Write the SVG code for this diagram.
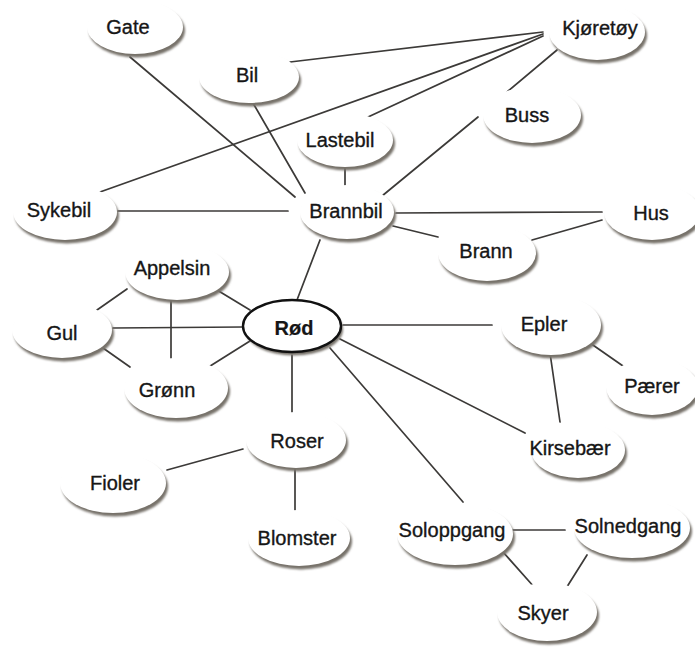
<svg xmlns="http://www.w3.org/2000/svg" width="695" height="650" viewBox="0 0 695 650">
<defs>
<filter id="blur" x="-10%" y="-10%" width="120%" height="130%"><feGaussianBlur stdDeviation="0.8"/></filter>
</defs>
<style>
.sh{fill:#77726b;filter:url(#blur)}
.bg{fill:#ffffff}
.main{fill:#ffffff;stroke:#111;stroke-width:2.4}
text{font-family:"Liberation Sans",Arial,sans-serif;font-size:20px;fill:#161616;stroke:#161616;stroke-width:0.35;text-anchor:middle}
.b{font-weight:bold;stroke-width:0.2}
#edges line{stroke:#3c3a38;stroke-width:1.7;stroke-linecap:round}
</style>
<rect width="695" height="650" fill="#ffffff"/>
<g id="edges">
<line x1="130" y1="57" x2="295" y2="197"/>
<line x1="253" y1="103" x2="305" y2="193"/>
<line x1="290" y1="62" x2="543" y2="32"/>
<line x1="100" y1="192" x2="543" y2="34"/>
<line x1="368" y1="117" x2="543" y2="36"/>
<line x1="382" y1="196" x2="478" y2="117"/>
<line x1="507" y1="92" x2="557" y2="50"/>
<line x1="345" y1="168" x2="345" y2="186"/>
<line x1="118" y1="211" x2="288" y2="211"/>
<line x1="396" y1="213" x2="602" y2="212"/>
<line x1="393" y1="226" x2="438" y2="237"/>
<line x1="532" y1="240" x2="602" y2="220"/>
<line x1="320" y1="240" x2="297" y2="300"/>
<line x1="97" y1="310" x2="127" y2="289"/>
<line x1="217" y1="290" x2="250" y2="310"/>
<line x1="171" y1="298" x2="171" y2="361"/>
<line x1="113" y1="328" x2="243" y2="327"/>
<line x1="103" y1="348" x2="130" y2="367"/>
<line x1="207" y1="368" x2="250" y2="341"/>
<line x1="292" y1="355" x2="292" y2="413"/>
<line x1="167" y1="470" x2="243" y2="449"/>
<line x1="295" y1="468" x2="295" y2="510"/>
<line x1="343" y1="325" x2="492" y2="325"/>
<line x1="590" y1="343" x2="623" y2="366"/>
<line x1="550" y1="353" x2="560" y2="422"/>
<line x1="340" y1="339" x2="525" y2="433"/>
<line x1="330" y1="348" x2="463" y2="502"/>
<line x1="513" y1="530" x2="565" y2="530"/>
<line x1="503" y1="552" x2="535" y2="588"/>
<line x1="587" y1="555" x2="565" y2="590"/>
</g>
<g id="gate"><ellipse class="sh" cx="137" cy="30.5" rx="48" ry="27"/><ellipse class="bg" cx="135" cy="27" rx="48" ry="27"/><text x="128" y="34">Gate</text></g>
<g id="bil"><ellipse class="sh" cx="251" cy="80.5" rx="50" ry="26"/><ellipse class="bg" cx="249" cy="77" rx="50" ry="26"/><text x="247" y="82">Bil</text></g>
<g id="kjoretoy"><ellipse class="sh" cx="599" cy="35.5" rx="48" ry="28"/><ellipse class="bg" cx="597" cy="32" rx="48" ry="28"/><text x="600" y="35">Kjøretøy</text></g>
<g id="buss"><ellipse class="sh" cx="534" cy="118.5" rx="49" ry="28"/><ellipse class="bg" cx="532" cy="115" rx="49" ry="28"/><text x="527" y="122">Buss</text></g>
<g id="lastebil"><ellipse class="sh" cx="347" cy="143.5" rx="48" ry="27"/><ellipse class="bg" cx="345" cy="140" rx="48" ry="27"/><text x="340" y="147">Lastebil</text></g>
<g id="sykebil"><ellipse class="sh" cx="67" cy="215.5" rx="52" ry="28"/><ellipse class="bg" cx="65" cy="212" rx="52" ry="28"/><text x="59" y="217">Sykebil</text></g>
<g id="brannbil"><ellipse class="sh" cx="349" cy="215.5" rx="47" ry="27"/><ellipse class="bg" cx="347" cy="212" rx="47" ry="27"/><text x="346" y="218">Brannbil</text></g>
<g id="hus"><ellipse class="sh" cx="654" cy="215.5" rx="48" ry="28"/><ellipse class="bg" cx="652" cy="212" rx="48" ry="28"/><text x="651" y="220">Hus</text></g>
<g id="brann"><ellipse class="sh" cx="489" cy="256.5" rx="49" ry="28"/><ellipse class="bg" cx="487" cy="253" rx="49" ry="28"/><text x="486" y="258">Brann</text></g>
<g id="appelsin"><ellipse class="sh" cx="179" cy="275.5" rx="52" ry="28"/><ellipse class="bg" cx="177" cy="272" rx="52" ry="28"/><text x="172" y="275">Appelsin</text></g>
<g id="gul"><ellipse class="sh" cx="64" cy="333.5" rx="50" ry="28"/><ellipse class="bg" cx="62" cy="330" rx="50" ry="28"/><text x="62" y="340">Gul</text></g>
<g id="rod"><ellipse class="sh" cx="294" cy="329.5" rx="49" ry="26"/><ellipse class="main" cx="292" cy="326" rx="49" ry="26"/><text class="b" x="294" y="335">Rød</text></g>
<g id="gronn"><ellipse class="sh" cx="178" cy="391.5" rx="52" ry="30"/><ellipse class="bg" cx="176" cy="388" rx="52" ry="30"/><text x="167" y="397">Grønn</text></g>
<g id="roser"><ellipse class="sh" cx="298" cy="443.5" rx="50" ry="28"/><ellipse class="bg" cx="296" cy="440" rx="50" ry="28"/><text x="297" y="448">Roser</text></g>
<g id="fioler"><ellipse class="sh" cx="115" cy="486.5" rx="53" ry="30"/><ellipse class="bg" cx="113" cy="483" rx="53" ry="30"/><text x="115" y="490">Fioler</text></g>
<g id="blomster"><ellipse class="sh" cx="301" cy="541.5" rx="51" ry="28"/><ellipse class="bg" cx="299" cy="538" rx="51" ry="28"/><text x="297" y="545">Blomster</text></g>
<g id="epler"><ellipse class="sh" cx="553" cy="328.5" rx="50" ry="30"/><ellipse class="bg" cx="551" cy="325" rx="50" ry="30"/><text x="544" y="331">Epler</text></g>
<g id="paerer"><ellipse class="sh" cx="654" cy="390.5" rx="46" ry="28"/><ellipse class="bg" cx="652" cy="387" rx="46" ry="28"/><text x="652" y="393">Pærer</text></g>
<g id="kirsebaer"><ellipse class="sh" cx="580" cy="453.5" rx="47" ry="28"/><ellipse class="bg" cx="578" cy="450" rx="47" ry="28"/><text x="570" y="455">Kirsebær</text></g>
<g id="soloppgang"><ellipse class="sh" cx="457" cy="537.5" rx="58" ry="31"/><ellipse class="bg" cx="455" cy="534" rx="58" ry="31"/><text x="452" y="537">Soloppgang</text></g>
<g id="solnedgang"><ellipse class="sh" cx="634" cy="531.5" rx="58" ry="30"/><ellipse class="bg" cx="632" cy="528" rx="58" ry="30"/><text x="628" y="533">Solnedgang</text></g>
<g id="skyer"><ellipse class="sh" cx="549" cy="615.5" rx="50" ry="29"/><ellipse class="bg" cx="547" cy="612" rx="50" ry="29"/><text x="543" y="620">Skyer</text></g>
</svg>
